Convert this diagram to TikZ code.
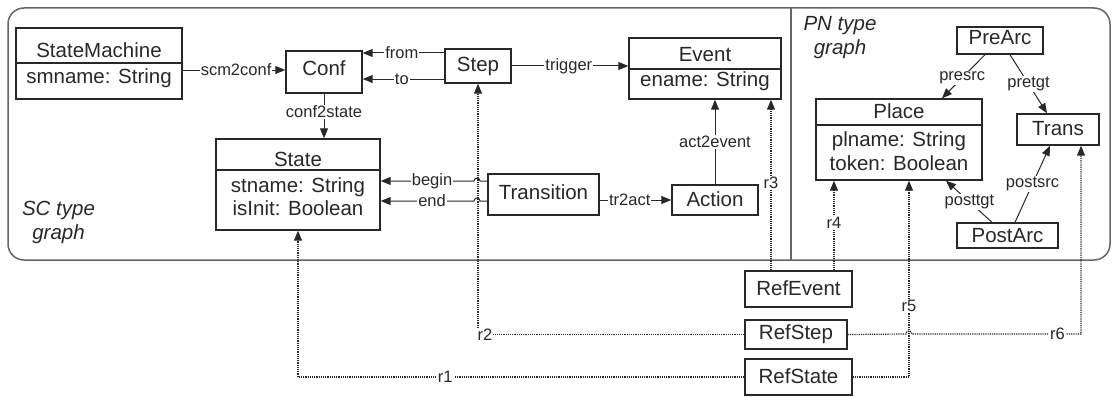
\documentclass[tikz,border=0pt]{standalone}
\usepackage{fontspec}
\setmainfont{Liberation Sans}
\usetikzlibrary{arrows.meta}
\definecolor{ink}{HTML}{282828}
\definecolor{framec}{HTML}{666666}
\begin{document}
\begin{tikzpicture}[x=1pt,y=-1pt,
  box/.style={draw=ink,line width=1.4pt,inner sep=0pt},
  divl/.style={draw=ink,line width=1.3pt},
  txt/.style={font=\fontsize{20.5}{24}\selectfont,text=ink,anchor=base,inner sep=0pt},
  itx/.style={font=\fontsize{20.5}{24}\selectfont\itshape,text=ink,anchor=base,inner sep=0pt},
  lbl/.style={font=\fontsize{16.5}{19}\selectfont,text=ink,fill=white,inner sep=1pt},
  conn/.style={draw=ink,line width=1pt,-{Triangle[length=10pt,width=8pt]}},
  refc/.style={conn,line width=1.2pt,dash pattern=on 1.2pt off 1pt},
]
\useasboundingbox (0,0) rectangle (1113,396);
% frame
\draw[framec,line width=1.5pt,rounded corners=16pt] (8,8) rectangle (1110,260);
\draw[framec,line width=1.5pt] (791,8) -- (791,260);
\node[itx] (sc1) at (58.5,215) {SC type};
\node[itx] (sc2) at (58.5,239) {graph};
\node[itx] (pn1) at (840,31) {PN type};
\node[itx] (pn2) at (840,55) {graph};

% SC boxes
\node[box,minimum width=166pt,minimum height=71pt] (sm) at (99,63.5) {};
\draw[divl] (sm.west |- 0,63) -- (sm.east |- 0,63);
\node[txt] (smT) at (99,57) {StateMachine};
\node[txt] (smA) at (99,83) {smname: String};

\node[box,minimum width=76pt,minimum height=42pt] (conf) at (324,72) {};
\node[txt] (confT) at (324,75) {Conf};

\node[box,minimum width=164pt,minimum height=91pt] (st) at (298,184.5) {};
\draw[divl] (st.west |- 0,170) -- (st.east |- 0,170);
\node[txt] (stT) at (298,166) {State};
\node[txt] (stA) at (298,192) {stname: String};
\node[txt] (stB) at (298,215) {isInit: Boolean};

\node[box,minimum width=66pt,minimum height=34pt] (step) at (478,66) {};
\node[txt] (stepT) at (478,71) {Step};

\node[box,minimum width=152pt,minimum height=61pt] (event) at (705,68.5) {};
\draw[divl] (event.west |- 0,69) -- (event.east |- 0,69);
\node[txt] (eventT) at (705,62) {Event};
\node[txt] (eventA) at (705,86) {ename: String};

\node[box,minimum width=111pt,minimum height=41pt] (tr) at (543.5,194.5) {};
\node[txt] (trT) at (543.5,199) {Transition};

\node[box,minimum width=86pt,minimum height=30pt] (act) at (715,200) {};
\node[txt] (actT) at (715,206) {Action};

% PN boxes
\node[box,minimum width=86pt,minimum height=27pt] (pre) at (1000,40.5) {};
\node[txt] (preT) at (1000,45) {PreArc};

\node[box,minimum width=166pt,minimum height=81pt] (place) at (899,139.5) {};
\draw[divl] (place.west |- 0,125) -- (place.east |- 0,125);
\node[txt] (placeT) at (899,118) {Place};
\node[txt] (placeA) at (899,146) {plname: String};
\node[txt] (placeB) at (899,170) {token: Boolean};

\node[box,minimum width=82pt,minimum height=31pt] (trans) at (1058,129.5) {};
\node[txt] (transT) at (1058,135) {Trans};

\node[box,minimum width=101pt,minimum height=25pt] (post) at (1007.5,235.5) {};
\node[txt] (postT) at (1007.5,242) {PostArc};

% Ref boxes
\node[box,minimum width=107pt,minimum height=36pt] (revent) at (798.5,289) {};
\node[txt] (reventT) at (798.5,295) {RefEvent};
\node[box,minimum width=102pt,minimum height=29pt] (rstep) at (796,334.5) {};
\node[txt] (rstepT) at (796,339) {RefStep};
\node[box,minimum width=107pt,minimum height=36pt] (rstate) at (798.5,377) {};
\node[txt] (rstateT) at (798.5,383) {RefState};

% SC connectors
\draw[conn] (sm.east |- 0,70) -- node[lbl,pos=.52]{scm2conf} (conf.west |- 0,70);
\draw[conn] (step.west |- 0,53) -- node[lbl,pos=.52]{from} (conf.east |- 0,53);
\draw[conn] (step.west |- 0,79) -- node[lbl,pos=.52]{to} (conf.east |- 0,79);
\draw[conn] (step.east) -- node[lbl,pos=.49]{trigger} (event.west |- step.east);
\draw[conn] (conf.south) -- node[lbl,pos=.41]{conf2state} (st.north -| conf.south);
\draw[conn] (tr.west |- 0,181) -- (480,181) arc[start angle=0,end angle=-180,radius=3]
  -- node[lbl,pos=.45]{begin} (st.east |- 0,181);
\draw[conn] (tr.west |- 0,201) -- (480,201) arc[start angle=0,end angle=-180,radius=3]
  -- node[lbl,pos=.45]{end} (st.east |- 0,201);
\draw[conn] (tr.east |- act.west) -- node[lbl,pos=.42]{tr2act} (act.west);
\draw[conn] (act.north) -- node[lbl,pos=.5]{act2event} (event.south -| act.north);

% PN connectors
\draw[conn] (pre.south -| 985,0) -- node[lbl,pos=.53]{presrc} (place.north -| 942,0);
\draw[conn] (pre.south -| 1010,0) -- node[lbl,pos=.5]{pretgt} (trans.north -| 1047,0);
\draw[conn] (post.north -| 1015,0) -- node[lbl,pos=.5]{postsrc} (trans.south -| 1050,0);
\draw[conn] (post.north -| 992,0) -- node[lbl,pos=.49]{posttgt} (place.south -| 946,0);

% Ref connectors
\draw[refc] (rstate.west) -- node[lbl,pos=.67]{r1} (st.south |- rstate.west) -- (st.south);
\draw[refc] (rstep.west) -- (step.south |- rstep.west) -- (step.south);
\node[lbl,anchor=west,inner sep=0.5pt] (r2) at ([xshift=-1pt]step.south |- rstep.west) {r2};
\draw[refc] (revent.north -| 771,0) -- node[lbl,pos=.51]{r3} (event.south -| 771,0);
\draw[refc] (revent.north -| 834,0) -- node[lbl,pos=.53]{r4} (place.south -| 834,0);
\draw[refc] (rstate.east) -- (rstate.east -| 909,0) -- node[lbl,pos=.36]{r5} (place.south -| 909,0);
\draw[refc] (rstep.east) -- (906,334) arc[start angle=180,end angle=360,radius=3]
  -- node[lbl,pos=.86]{r6} (1081,334) -- (trans.south -| 1081,0);
\end{tikzpicture}
\end{document}
